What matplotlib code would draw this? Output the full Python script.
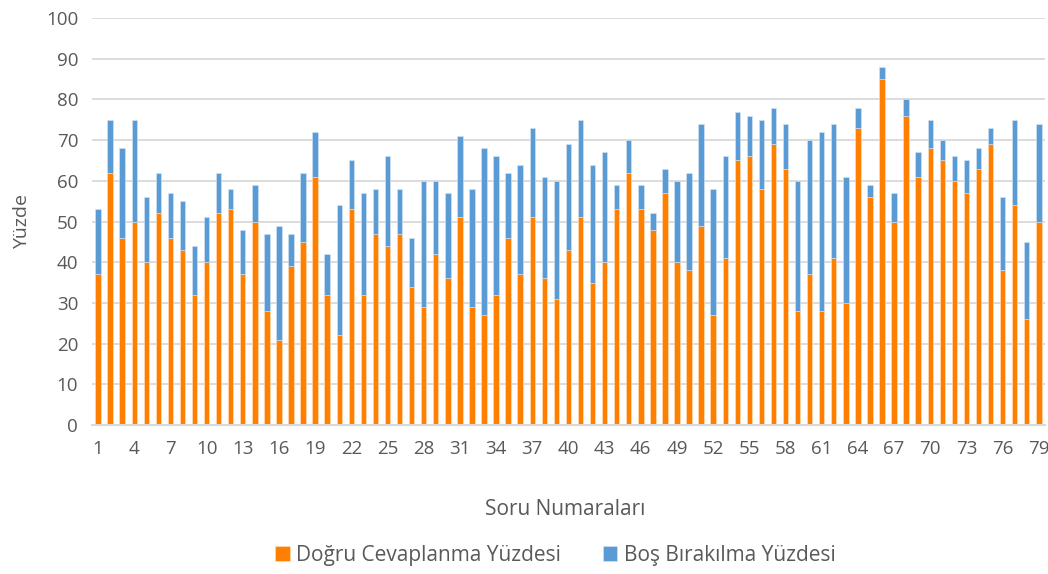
import matplotlib
matplotlib.use("Agg")
import matplotlib.pyplot as plt
import numpy as np

questions = list(range(1, 80))
correct = [37, 62, 46, 50, 40, 52, 46, 43, 32, 40, 52, 53, 37, 50, 28, 21, 39, 45, 61, 32,
           22, 53, 32, 47, 44, 47, 34, 29, 42, 36, 51, 29, 27, 32, 46, 37, 51, 36, 31, 43,
           51, 35, 40, 53, 62, 53, 48, 57, 40, 38, 49, 27, 41, 65, 66, 58, 69, 63, 28, 37,
           28, 41, 30, 73, 56, 85, 50, 76, 61, 68, 65, 60, 57, 63, 69, 38, 54, 26, 50]
total = [53, 75, 68, 75, 56, 62, 57, 55, 44, 51, 62, 58, 48, 59, 47, 49, 47, 62, 72, 42,
         54, 65, 57, 58, 66, 58, 46, 60, 60, 57, 71, 58, 68, 66, 62, 64, 73, 61, 60, 69,
         75, 64, 67, 59, 70, 59, 52, 63, 60, 62, 74, 58, 66, 77, 76, 75, 78, 74, 60, 70,
         72, 74, 61, 78, 59, 88, 57, 80, 67, 75, 70, 66, 65, 68, 73, 56, 75, 45, 74]
blank = [t - c for t, c in zip(total, correct)]
xticks = list(range(1, 80, 3))
yticks = list(range(0, 101, 10))

series1 = "Doğru Cevaplanma Yüzdesi"
series2 = "Boş Bırakılma Yüzdesi"

plt.rcParams['font.family'] = ['Open Sans', 'DejaVu Sans']
txt = '#595959'

fig = plt.figure(figsize=(10.48, 5.74), dpi=100)
ax = fig.add_axes([0.0878, 0.2596, 0.9092, 0.709])

w = 0.45
ax.bar(questions, correct, width=w, color='#FF8000', edgecolor='#FFE0C0', linewidth=0.4,
       label=series1, zorder=3)
ax.bar(questions, blank, bottom=correct, width=w, color='#5B9BD5', edgecolor='#D6E6F5',
       linewidth=0.4, label=series2, zorder=3)

ax.set_xlim(0.5, 79.5)
ax.set_ylim(0, 100)
ax.set_yticks(yticks)
ax.set_xticks(xticks)
ax.tick_params(axis='both', length=0, labelsize=13.5, colors=txt)
ax.tick_params(axis='x', pad=11)
ax.tick_params(axis='y', pad=10)
ax.grid(axis='y', color='#D9D9D9', linewidth=1.3, zorder=0)
for s in ['top', 'right', 'left']:
    ax.spines[s].set_visible(False)
ax.spines['bottom'].set_color('#D9D9D9')
ax.spines['bottom'].set_linewidth(1.5)
ax.spines['bottom'].set_zorder(4)

ax.set_ylabel('Yüzde', fontsize=14, color=txt, labelpad=11)
fig.text(0.539, 0.112, 'Soru Numaraları', ha='center', va='center', fontsize=15, color=txt)

leg = fig.legend(loc='center', bbox_to_anchor=(0.53, 0.033), ncol=2, frameon=False,
                 fontsize=15, handlelength=0.7, handleheight=0.7, handletextpad=0.3,
                 columnspacing=2.0)
for t in leg.get_texts():
    t.set_color(txt)

fig.savefig('out.png', dpi=100)
